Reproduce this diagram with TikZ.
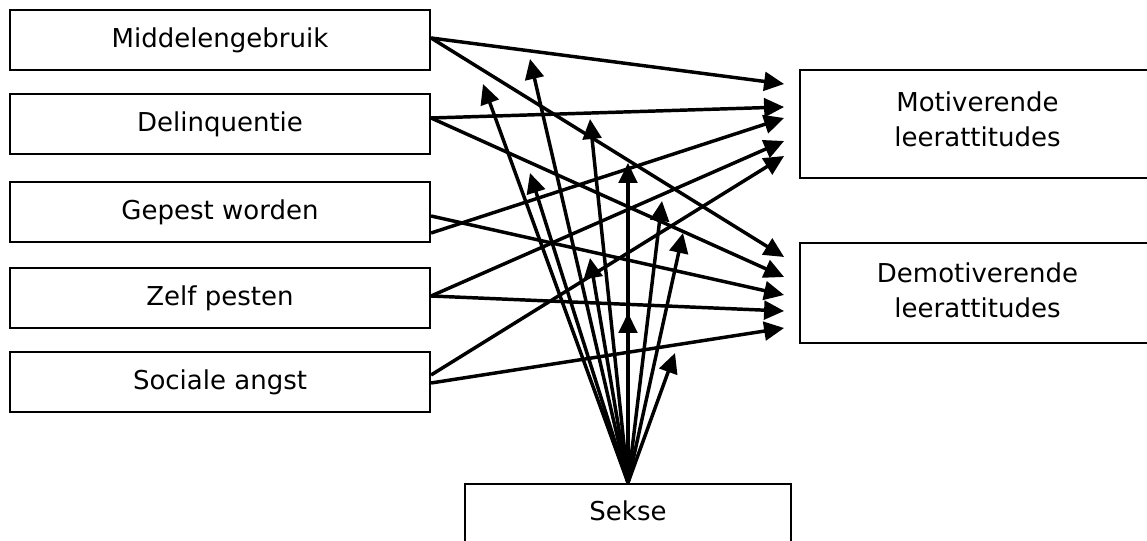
\documentclass[tikz,border=0pt]{standalone}
\usepackage{fontspec}
\setmainfont{DejaVu Sans}
\usetikzlibrary{arrows.meta,calc}

\begin{document}
\begin{tikzpicture}[x=0.75pt, y=-0.75pt,
  box/.style={draw, line width=1.6pt, font=\fontsize{19.5pt}{26.25pt}\selectfont, align=center, inner sep=0pt},
  lbox/.style={box, minimum width=315pt, minimum height=45pt},
  conn/.style={line width=2.6pt, -{Triangle[length=15pt, width=14pt]}}]
\useasboundingbox (0,0) rectangle (1147,541);
\clip (0,0) rectangle (1147,541);
% predictors
\node[lbox] (mid)  at (220,40)  {Middelengebruik};
\node[lbox] (del)  at (220,124) {Delinquentie};
\node[lbox] (gep)  at (220,212) {Gepest worden};
\node[lbox] (zelf) at (220,298) {Zelf pesten};
\node[lbox] (soc)  at (220,382) {Sociale angst};
% outcomes
\node[box, minimum width=266pt, minimum height=81pt, text depth=8pt] (mot) at (977.5,124) {Motiverende\\leerattitudes};
\node[box, minimum width=266pt, minimum height=75pt, text depth=4pt] (dem) at (977.5,293) {Demotiverende\\leerattitudes};
% moderator
\node[box, minimum width=244.5pt, minimum height=46pt, text depth=6pt] (sek) at (628,514.5) {Sekse};
% paths to motiverende
\foreach \src/\dy/\ty [count=\i] in {mid/-2/-40, del/-6/-17, gep/21/-6, zelf/-2/17, soc/-7/32}{
  \coordinate (mt\i) at ($(mot.west)+(-15,\ty)$);
  \draw[conn] ($(\src.east)+(0,\dy)$) -- (mt\i);
}
% paths to demotiverende
\foreach \src/\dy/\ty [count=\i] in {mid/-2/-36, del/-6/-16, gep/4/2, zelf/-2/18, soc/1/35}{
  \coordinate (dt\i) at ($(dem.west)+(-15,\ty)$);
  \draw[conn] ($(\src.east)+(0,\dy)$) -- (dt\i);
}
% sekse on every path
\foreach \x/\y [count=\i] in {483/84, 530/59, 590/119, 530/173, 628/163, 662/201, 683/233, 590/258, 628/313, 675/353}{
  \coordinate (s\i) at (\x,\y);
  \draw[conn] (sek.north) -- (s\i);
}
\end{tikzpicture}
\end{document}
